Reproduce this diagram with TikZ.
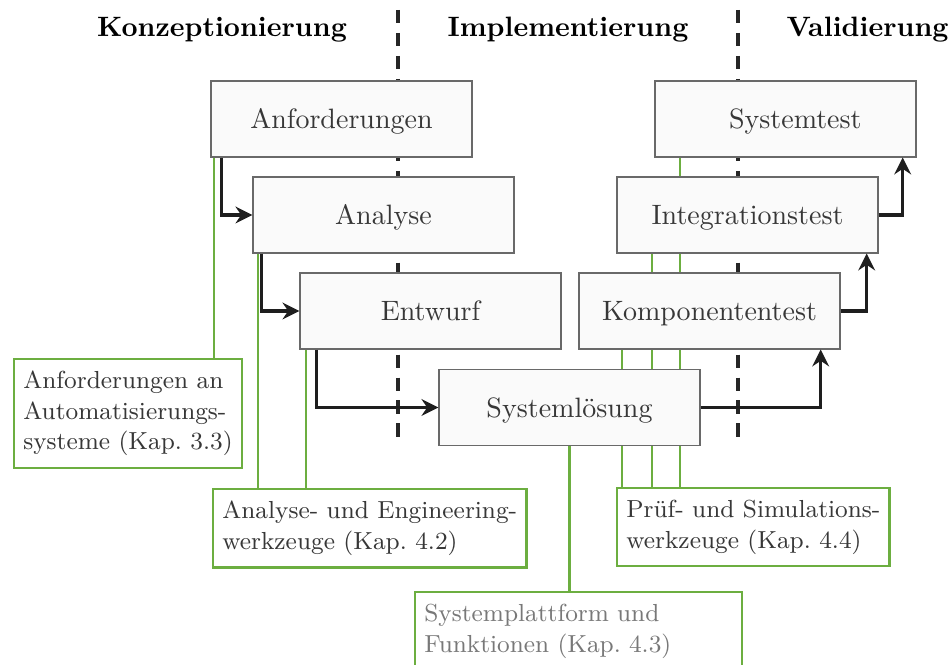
\documentclass[tikz,border=0pt]{standalone}
\usetikzlibrary{arrows.meta,backgrounds}

\definecolor{boxfill}{RGB}{250,250,250}
\definecolor{boxline}{RGB}{105,105,105}
\definecolor{boxtext}{RGB}{55,55,55}
\definecolor{tool}{RGB}{108,174,64}
\definecolor{flow}{RGB}{30,30,30}
\definecolor{paletext}{RGB}{120,120,120}

\begin{document}
\frenchspacing
\begin{tikzpicture}[x=0.357pt, y=-0.357pt,
  phase/.style={draw=boxline, line width=0.45pt, fill=boxfill, text=boxtext,
    minimum width=93.2pt, minimum height=27.1pt, inner sep=0pt,
    text height=7.4pt, text depth=0.6pt, font=\normalsize},
  toolbox/.style={draw=tool, line width=0.8pt, fill=white, align=left,
    font=\fontsize{8.8}{10.9}\selectfont, text=boxtext,
    inner xsep=3.3pt, inner ysep=4.3pt, anchor=north west},
  toolline/.style={draw=tool, line width=0.8pt},
  flowarrow/.style={draw=flow, line width=1.1pt,
    -{Stealth[length=6pt,width=6pt,inset=2pt]}},
  divider/.style={draw=black!85, line width=1.4pt,
    dash pattern=on 4.8pt off 3.4pt},
  heading/.style={font=\bfseries, text=black, anchor=base}]

\useasboundingbox (0,0) rectangle (951,665);
\clip (0,0) rectangle (951,665);

% phase headings
\node[heading] (h1) at (222,37) {Konzeptionierung};
\node[heading] (h2) at (568,37) {Implementierung};
\node[heading] (h3) at (867.5,37) {Validierung};

% V-model phases
\node[phase] (anf) at (341.5,119)   {Anforderungen};
\node[phase] (ana) at (383.5,215)   {Analyse};
\node[phase] (ent) at (430.5,311)   {Entwurf};
\node[phase] (sol) at (569.5,407.5) {Systemlösung};
\node[phase] (kt)  at (709.5,311)   {Komponententest};
\node[phase] (it)  at (747.5,215)   {Integrationstest};
\node[phase] (st)  at (785.5,119)   {\hspace*{7pt}Systemtest};

% tool groups
\node[toolbox] (req) at (13,358)
  {Anforderungen an\\Automatisierungs-\\systeme (Kap. 3.3)};
\node[toolbox] (eng) at (212,488)
  {Analyse- und Engineering-\\werkzeuge (Kap. 4.2)};
\node[toolbox] (sim) at (616,487)
  {Prüf- und Simulations-\\werkzeuge (Kap. 4.4)};
\node[toolbox, text width=110pt, text=paletext] (plat) at (414,591)
  {Systemplattform und\\Funktionen (Kap. 4.3)};

% dividers and tool links behind the boxes
\begin{scope}[on background layer]
  \fill[white] (0,0) rectangle (951,665);
  \coordinate (d1a) at (398,10);
  \coordinate (d1b) at (398,446);
  \coordinate (d2a) at (738,10);
  \coordinate (d2b) at (738,446);
  \draw[divider] (d1a) -- (d1b);
  \draw[divider] (d2a) -- (d2b);

  \path (anf.south west) ++(4,0)  coordinate (g1);
  \path (ana.south west) ++(6,0)  coordinate (g2);
  \path (ent.south west) ++(7,0)  coordinate (g3);
  \path (sol.south)               coordinate (g4);
  \path (kt.south west)  ++(44,0) coordinate (g5);
  \path (it.south west)  ++(36,0) coordinate (g6);
  \path (st.south west)  ++(26,0) coordinate (g7);
  \draw[toolline] (g1) -- (g1 |- req.north);
  \draw[toolline] (g2) -- (g2 |- eng.north);
  \draw[toolline] (g3) -- (g3 |- eng.north);
  \draw[toolline] (g4) -- (g4 |- plat.north);
  \draw[toolline] (g5) -- (g5 |- sim.north);
  \draw[toolline] (g6) -- (g6 |- sim.north);
  \draw[toolline] (g7) -- (g7 |- sim.north);
\end{scope}

% process flow
\path (anf.south west) ++(11,0)  coordinate (f1);
\path (ana.south west) ++(9,0)   coordinate (f2);
\path (ent.south west) ++(17,0)  coordinate (f3);
\path (kt.south east)  ++(-20,0) coordinate (f4);
\path (it.south east)  ++(-12,0) coordinate (f5);
\path (st.south east)  ++(-14,0) coordinate (f6);
\draw[flowarrow] (f1) |- (ana.west);
\draw[flowarrow] (f2) |- (ent.west);
\draw[flowarrow] (f3) |- (sol.west);
\draw[flowarrow] (sol.east) -| (f4);
\draw[flowarrow] (kt.east) -| (f5);
\draw[flowarrow] (it.east) -| (f6);

\end{tikzpicture}
\end{document}
